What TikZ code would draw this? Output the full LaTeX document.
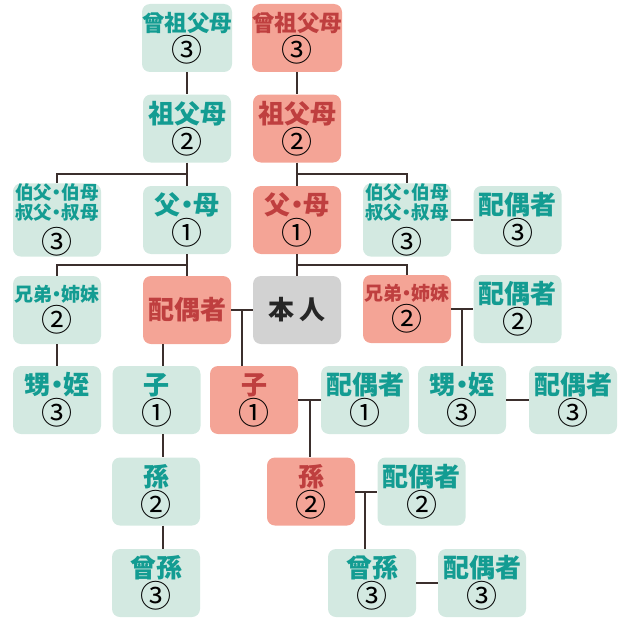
\documentclass[tikz,border=0pt]{standalone}
\usepackage{fontspec}
\newfontfamily\cjk{Noto Sans CJK JP}
\definecolor{gfill}{HTML}{D3E9E1}
\definecolor{rfill}{HTML}{F4A496}
\definecolor{pfill}{HTML}{D2D2D2}
\definecolor{gtext}{HTML}{139C92}
\definecolor{rtext}{HTML}{BF3F3F}
\definecolor{lnk}{HTML}{3B2F2D}
\newcommand\numc[1]{\fontsize{31}{31}\selectfont\mdseries\textcolor{black}{#1}}
\newcommand\dt{\kern-0.25em・\kern-0.25em}
\newcommand\tl[2]{\fontsize{#1}{#1}\selectfont\bfseries #2}
\begin{document}
\begin{tikzpicture}[x=1pt,y=-1pt,
  box/.style={rounded corners=8pt, minimum width=88pt, minimum height=68pt, inner sep=0pt, align=center, font=\cjk},
  gbox/.style={box, fill=gfill, text=gtext},
  rbox/.style={box, fill=rfill, text=rtext},
  pbox/.style={box, fill=pfill, text=black!85},
  link/.style={draw=lnk, line width=2pt}]
\useasboundingbox (0,0) rectangle (621,618);
% ancestors
\node[gbox] (gg3) at (187,38) {\tl{22.5}{曾祖父母}\\[0pt]\numc{③}};
\node[rbox] (rg3) at (297,38) {\tl{22.5}{曾祖父母}\\[0pt]\numc{③}};
\node[gbox] (gg2) at (187,128.5) {\tl{26}{祖父母}\\[0pt]\numc{②}};
\node[rbox] (rg2) at (297,128.5) {\tl{26}{祖父母}\\[0pt]\numc{②}};
\node[gbox] (gu3) at (57,220) {\tl{18.5}{伯父\dt 伯母}\\[2pt]\tl{18.5}{叔父\dt 叔母}\\[5pt]\numc{③}};
\node[gbox] (gp1) at (187,220) {\tl{26}{父\dt 母}\\[0pt]\numc{①}};
\node[rbox] (rp1) at (297,220) {\tl{26}{父\dt 母}\\[0pt]\numc{①}};
\node[gbox] (ru3) at (407,220) {\tl{18.5}{伯父\dt 伯母}\\[2pt]\tl{18.5}{叔父\dt 叔母}\\[5pt]\numc{③}};
\node[gbox] (sp3a) at (517.5,220) {\tl{26}{配偶者}\\[0pt]\numc{③}};
% own generation
\node[gbox] (gsib) at (57,310) {\tl{19}{兄弟\dt 姉妹}\\[1pt]\numc{②}};
\node[rbox] (rsp) at (187,310) {\tl{26}{配偶者}};
\node[pbox] (self) at (297,310) {\tl{26}{本\ 人}};
\node[rbox] (rsib) at (407,309) {\tl{19}{兄弟\dt 姉妹}\\[1pt]\numc{②}};
\node[gbox] (sp2a) at (517.5,309) {\tl{26}{配偶者}\\[0pt]\numc{②}};
% children
\node[gbox] (gnep) at (57,400) {\tl{26}{甥\dt 姪}\\[0pt]\numc{③}};
\node[gbox] (gch) at (156.5,400) {\tl{26}{子}\\[0pt]\numc{①}};
\node[rbox] (rch) at (254,400) {\tl{26}{子}\\[0pt]\numc{①}};
\node[gbox] (sp1) at (365,400) {\tl{26}{配偶者}\\[0pt]\numc{①}};
\node[gbox] (rnep) at (462,400) {\tl{26}{甥\dt 姪}\\[0pt]\numc{③}};
\node[gbox] (sp3b) at (573,400) {\tl{26}{配偶者}\\[0pt]\numc{③}};
% grandchildren
\node[gbox] (ggc) at (156,491.5) {\tl{26}{孫}\\[0pt]\numc{②}};
\node[rbox] (rgc) at (311,491.5) {\tl{26}{孫}\\[0pt]\numc{②}};
\node[gbox] (sp2b) at (421.5,491.5) {\tl{26}{配偶者}\\[0pt]\numc{②}};
% great-grandchildren
\node[gbox] (gggc) at (156,583) {\tl{26}{曾孫}\\[0pt]\numc{③}};
\node[gbox] (rggc) at (372,583) {\tl{26}{曾孫}\\[0pt]\numc{③}};
\node[gbox] (sp3c) at (482,583) {\tl{26}{配偶者}\\[0pt]\numc{③}};
% junctions
\coordinate (jg1) at (187,174);
\coordinate (jr1) at (297,174);
\coordinate (jg2) at (187,265);
\coordinate (jr2) at (297,265);
\coordinate (jb) at (462,309);
\coordinate (js) at (242,310);
\coordinate (cx) at (163,0);
\coordinate (jc) at (310,400);
\coordinate (jd) at (365,491.5);
% connectors
\draw[link] (gg3) -- (gg2);
\draw[link] (rg3) -- (rg2);
\draw[link] (gg2) -- (gp1);
\draw[link] (jg1) -| (gu3.north);
\draw[link] (rg2) -- (rp1);
\draw[link] (jr1) -| (ru3.north);
\draw[link] (ru3) -- (sp3a);
\draw[link] (gp1) -- (rsp);
\draw[link] (jg2) -| (gsib.north);
\draw[link] (rp1) -- (self);
\draw[link] (jr2) -| (rsib.north);
\draw[link] (rsib) -- (sp2a);
\draw[link] (jb) -- (rnep.north);
\draw[link] (rnep) -- (sp3b);
\draw[link] (gsib) -- (gnep);
\draw[link] (rsp) -- (self);
\draw[link] (js) -- (js |- rch.north);
\draw[link] (rsp.south -| cx) -- (gch.north -| cx);
\draw[link] (gch.south -| cx) -- (ggc.north -| cx);
\draw[link] (ggc.south -| cx) -- (gggc.north -| cx);
\draw[link] (rch) -- (sp1);
\draw[link] (jc) -- (jc |- rgc.north);
\draw[link] (rgc) -- (sp2b);
\draw[link] (jd) -- (jd |- rggc.north);
\draw[link] (rggc) -- (sp3c);
\end{tikzpicture}
\end{document}
